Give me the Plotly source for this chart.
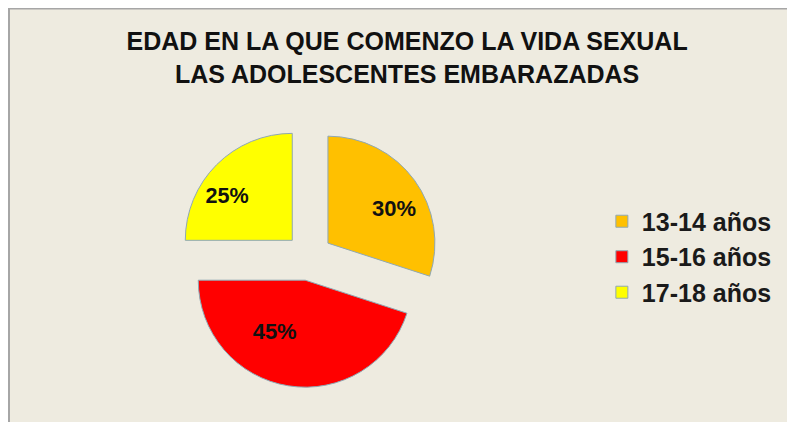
import plotly.graph_objects as go

# datos del gráfico
categorias = ["13-14 años", "15-16 años", "17-18 años"]
porcentajes = [30, 45, 25]
colores = ["#FFC000", "#FF0000", "#FFFF00"]

fondo = "#EEEBE0"
esp = "\u00a0"

fig = go.Figure(go.Pie(
    labels=categorias,
    values=porcentajes,
    sort=False,
    direction="clockwise",
    rotation=0,
    pull=[0.22, 0.22, 0.22],
    marker=dict(colors=colores, line=dict(color="#8FA8B4", width=1)),
    textinfo="percent",
    texttemplate=[esp * 6 + "%{percent:.0%}",
                  "%{percent:.0%}" + esp * 10,
                  "%{percent:.0%}" + esp * 7],
    textposition="inside",
    insidetextorientation="horizontal",
    insidetextfont=dict(family="Liberation Sans, Arial", size=22, color="#111111", weight="bold"),
    domain=dict(x=[0.14, 0.617], y=[0.1008, 0.7193]),
    hoverinfo="label+percent",
))

# marco gris del área del gráfico (solo borde izquierdo y superior visibles)
fig.add_shape(type="rect", xref="paper", yref="paper",
              x0=1 / 795, x1=1.02, y0=-0.03, y1=1 - 0.5 / 422,
              fillcolor=fondo, line=dict(color="#A6A6A6", width=2), layer="below")

fig.update_layout(
    width=795, height=422,
    margin=dict(l=0, r=0, t=0, b=0),
    paper_bgcolor=fondo,
    plot_bgcolor=fondo,
    title=dict(
        text="EDAD EN LA QUE COMENZO LA VIDA SEXUAL<br>LAS ADOLESCENTES EMBARAZADAS",
        x=0.502, xanchor="center",
        y=1 - 42 / 422, yanchor="top", yref="container",
        font=dict(family="Liberation Sans, Arial", size=25, color="#111111", weight="bold"),
    ),
    legend=dict(
        x=0.747, xanchor="left", y=0.41, yanchor="middle",
        font=dict(family="Liberation Sans, Arial", size=25, color="#1a1a1a", weight="bold"),
        bgcolor="rgba(0,0,0,0)",
    ),
)

fig.write_html("out.html")
